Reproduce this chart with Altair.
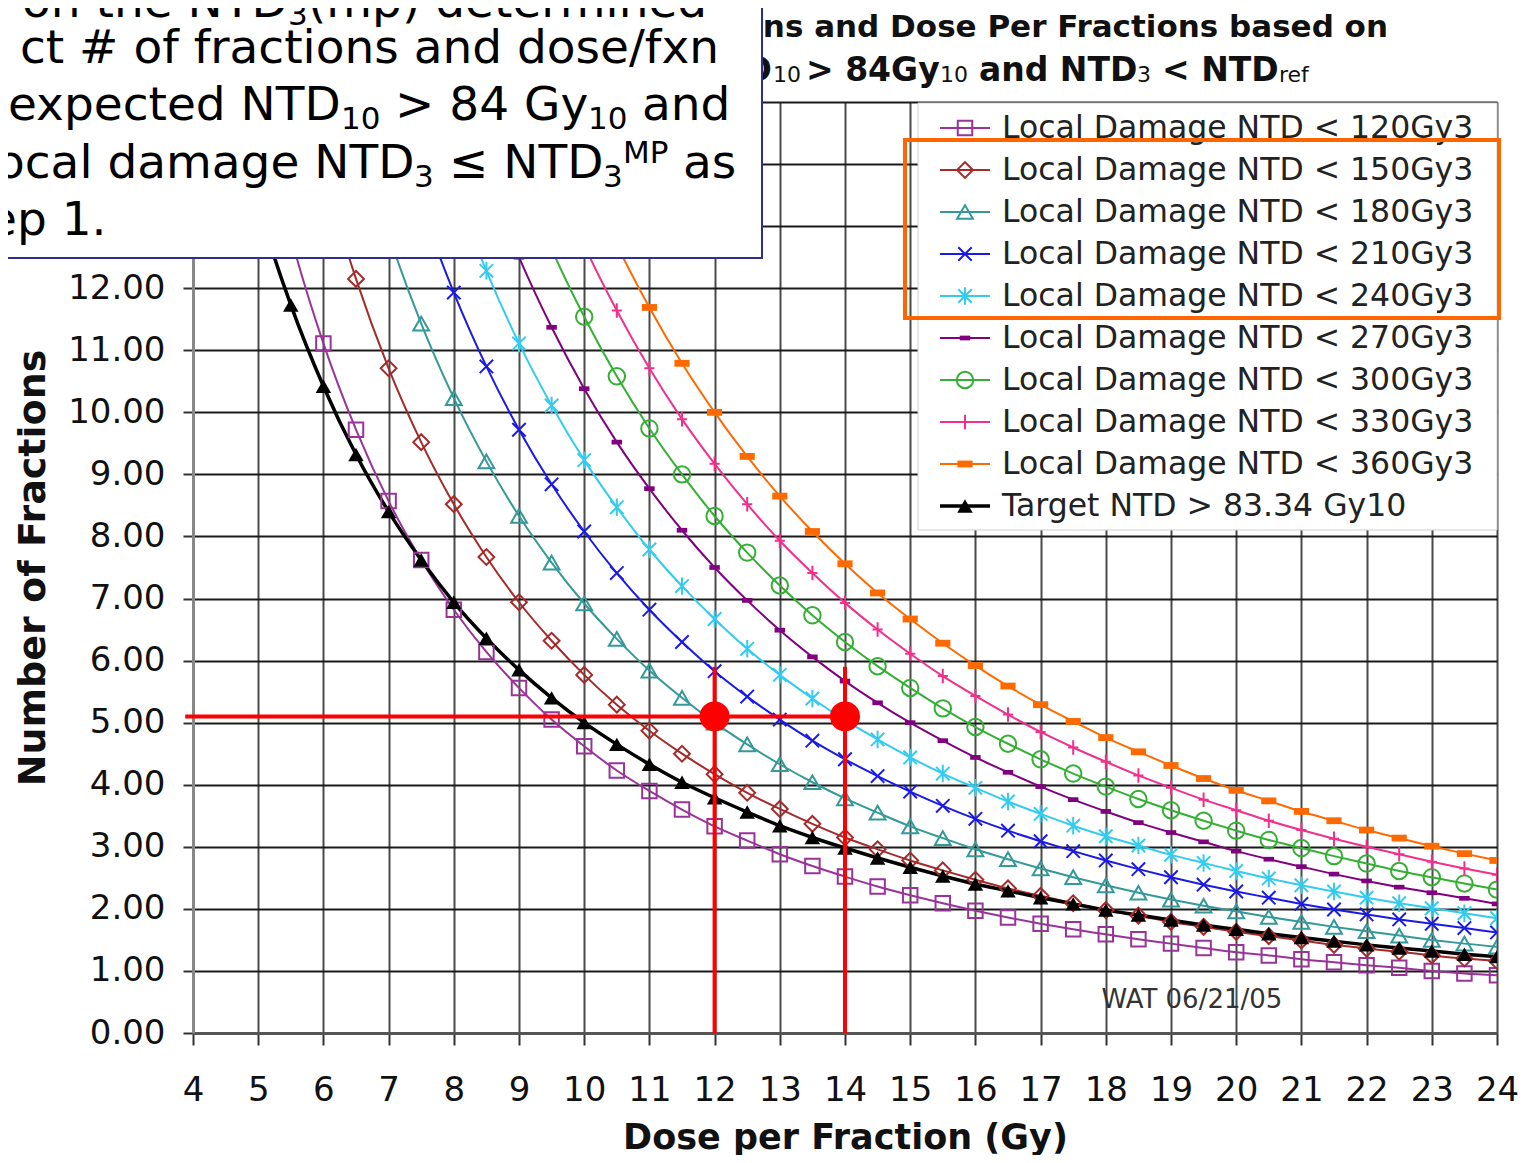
import altair as alt
import pandas as pd

# ---------------- data ----------------
DOSE = [4.0, 4.5, 5.0, 5.5, 6.0, 6.5, 7.0, 7.5, 8.0, 8.5, 9.0, 9.5, 10.0, 10.5,
        11.0, 11.5, 12.0, 12.5, 13.0, 13.5, 14.0, 14.5, 15.0, 15.5, 16.0, 16.5,
        17.0, 17.5, 18.0, 18.5, 19.0, 19.5, 20.0, 20.5, 21.0, 21.5, 22.0, 22.5,
        23.0, 23.5, 24.0]

N_120 = [21.43, 17.78, 15.00, 12.83, 11.11, 9.72, 8.57, 7.62, 6.82, 6.14, 5.56, 5.05,
         4.62, 4.23, 3.90, 3.60, 3.33, 3.10, 2.88, 2.69, 2.52, 2.36, 2.22, 2.09, 1.97,
         1.86, 1.76, 1.67, 1.59, 1.51, 1.44, 1.37, 1.30, 1.25, 1.19, 1.14, 1.09, 1.05,
         1.00, 0.96, 0.93]
N_150 = [None, 22.22, 18.75, 16.04, 13.89, 12.15, 10.71, 9.52, 8.52, 7.67, 6.94, 6.32,
         5.77, 5.29, 4.87, 4.50, 4.17, 3.87, 3.61, 3.37, 3.15, 2.96, 2.78, 2.62, 2.47,
         2.33, 2.21, 2.09, 1.98, 1.89, 1.79, 1.71, 1.63, 1.56, 1.49, 1.42, 1.36, 1.31,
         1.25, 1.20, 1.16]
N_180 = [None, None, 22.50, 19.25, 16.67, 14.58, 12.86, 11.43, 10.23, 9.21, 8.33, 7.58,
         6.92, 6.35, 5.84, 5.40, 5.00, 4.65, 4.33, 4.04, 3.78, 3.55, 3.33, 3.14, 2.96,
         2.80, 2.65, 2.51, 2.38, 2.26, 2.15, 2.05, 1.96, 1.87, 1.79, 1.71, 1.64, 1.57,
         1.50, 1.44, 1.39]
N_210 = [None, None, None, 22.46, 19.44, 17.00, 15.00, 13.33, 11.93, 10.74, 9.72, 8.84,
         8.08, 7.41, 6.82, 6.30, 5.83, 5.42, 5.05, 4.71, 4.41, 4.14, 3.89, 3.66, 3.45,
         3.26, 3.09, 2.93, 2.78, 2.64, 2.51, 2.39, 2.28, 2.18, 2.08, 1.99, 1.91, 1.83,
         1.76, 1.69, 1.62]
N_240 = [None, None, None, None, 22.22, 19.43, 17.14, 15.24, 13.64, 12.28, 11.11, 10.11,
         9.23, 8.47, 7.79, 7.20, 6.67, 6.19, 5.77, 5.39, 5.04, 4.73, 4.44, 4.18, 3.95,
         3.73, 3.53, 3.34, 3.17, 3.02, 2.87, 2.74, 2.61, 2.49, 2.38, 2.28, 2.18, 2.09,
         2.01, 1.93, 1.85]
N_270 = [None, None, None, None, None, 21.86, 19.29, 17.14, 15.34, 13.81, 12.50, 11.37,
         10.38, 9.52, 8.77, 8.10, 7.50, 6.97, 6.49, 6.06, 5.67, 5.32, 5.00, 4.71, 4.44,
         4.20, 3.97, 3.76, 3.57, 3.39, 3.23, 3.08, 2.93, 2.80, 2.68, 2.56, 2.45, 2.35,
         2.26, 2.17, 2.08]
N_300 = [None, None, None, None, None, None, 21.43, 19.05, 17.05, 15.35, 13.89, 12.63,
         11.54, 10.58, 9.74, 9.00, 8.33, 7.74, 7.21, 6.73, 6.30, 5.91, 5.56, 5.23, 4.93,
         4.66, 4.41, 4.18, 3.97, 3.77, 3.59, 3.42, 3.26, 3.11, 2.98, 2.85, 2.73, 2.61,
         2.51, 2.41, 2.31]
N_330 = [None, None, None, None, None, None, None, 20.95, 18.75, 16.88, 15.28, 13.90,
         12.69, 11.64, 10.71, 9.89, 9.17, 8.52, 7.93, 7.41, 6.93, 6.50, 6.11, 5.75, 5.43,
         5.13, 4.85, 4.60, 4.37, 4.15, 3.95, 3.76, 3.59, 3.42, 3.27, 3.13, 3.00, 2.88,
         2.76, 2.65, 2.55]
N_360 = [None, None, None, None, None, None, None, None, 20.45, 18.41, 16.67, 15.16,
         13.85, 12.70, 11.69, 10.79, 10.00, 9.29, 8.65, 8.08, 7.56, 7.09, 6.67, 6.28, 5.92,
         5.59, 5.29, 5.02, 4.76, 4.53, 4.31, 4.10, 3.91, 3.74, 3.57, 3.42, 3.27, 3.14,
         3.01, 2.89, 2.78]
N_TARGET = [17.86, 15.33, 13.33, 11.73, 10.42, 9.32, 8.40, 7.62, 6.94, 6.36, 5.85, 5.40,
            5.00, 4.65, 4.33, 4.04, 3.79, 3.56, 3.34, 3.15, 2.98, 2.82, 2.67, 2.53, 2.40,
            2.29, 2.18, 2.08, 1.98, 1.90, 1.82, 1.74, 1.67, 1.60, 1.54, 1.48, 1.42, 1.37,
            1.32, 1.27, 1.23]

SERIES_LABELS = ["Local Damage NTD < 120Gy3", "Local Damage NTD < 150Gy3",
                 "Local Damage NTD < 180Gy3", "Local Damage NTD < 210Gy3",
                 "Local Damage NTD < 240Gy3", "Local Damage NTD < 270Gy3",
                 "Local Damage NTD < 300Gy3", "Local Damage NTD < 330Gy3",
                 "Local Damage NTD < 360Gy3", "Target NTD > 83.34 Gy10"]
SERIES_VALUES = [N_120, N_150, N_180, N_210, N_240, N_270, N_300, N_330, N_360, N_TARGET]

X_TICKS = list(range(4, 25))
Y_TICKS = list(range(0, 16))

MARK_DOSE = [12, 14]       # red markers
MARK_N = [5.1, 5.1]
RED_H_START = 3.88
RED_H_END = 14
RED_V_TOP = 5.9
WAT_TEXT = "WAT 06/21/05"
WAT_POS = (19.32, 0.53)

# ---------------- styles ----------------
FONT = "DejaVu Sans"
STYLES = [
    dict(color="#993399", shape="square", size=210, filled=False, lw=2),
    dict(color="#A52A2A", shape="diamond", size=250, filled=False, lw=2),
    dict(color="#339999", shape="triangle-up", size=250, filled=False, lw=2),
    dict(color="#1A1AE6", shape="M-1,-1L1,1M-1,1L1,-1", size=180, filled=False, lw=2),
    dict(color="#33CCF0", shape="M-1,-1L1,1M-1,1L1,-1M0,-1.3L0,1.3", size=180, filled=False, lw=2),
    dict(color="#800080", shape="M-1,-0.45L1,-0.45L1,0.45L-1,0.45Z", size=110, filled=True, lw=2),
    dict(color="#33B033", shape="circle", size=270, filled=False, lw=2),
    dict(color="#F0308C", shape="M0,-1L0,1M-0.7,0L0.7,0", size=210, filled=False, lw=2),
    dict(color="#FF6A00", shape="M-1,-0.45L1,-0.45L1,0.45L-1,0.45Z", size=230, filled=True, lw=2),
    dict(color="#000000", shape="triangle-up", size=240, filled=True, lw=3.5),
]

PX, PY = 193, 102          # page position of plot origin
W, H = 1304, 931

XS = alt.Scale(domain=[4, 24], nice=False, zero=False)
YS = alt.Scale(domain=[0, 15], nice=False, zero=True)

XAX = alt.Axis(values=X_TICKS, format="d", labelFontSize=34, labelColor="#111",
               labelFont=FONT, labelPadding=28, labelFlush=False, labelOverlap=False,
               tickSize=12, tickColor="#333", tickWidth=2,
               domainColor="#555", domainWidth=3, gridColor="#4a4a4a", gridWidth=2,
               title="Dose per Fraction (Gy)", titleFontSize=35, titleFont=FONT,
               titleFontWeight="bold", titleColor="#111", titlePadding=13)
YAX = alt.Axis(values=Y_TICKS, labelExpr="datum.value <= 12 ? format(datum.value, '.2f') : ''",
               labelFontSize=34, labelColor="#111", labelFont=FONT, labelPadding=18,
               labelFlush=False, labelOverlap=False,
               tickSize=10, tickColor="#333", tickWidth=2,
               domainColor="#888", domainWidth=3, gridColor="#1a1a1a", gridWidth=2,
               title="Number of Fractions", titleFontSize=38, titleFont=FONT,
               titleFontWeight="bold", titleColor="#111", titlePadding=15)

X = alt.X("dose:Q", scale=XS, axis=XAX)
Y = alt.Y("n:Q", scale=YS, axis=YAX)

layers = []

# series lines and markers
for vals, st in zip(SERIES_VALUES, STYLES):
    df = pd.DataFrame({"dose": DOSE, "n": vals}).dropna()
    layers.append(alt.Chart(df).mark_line(color=st["color"], strokeWidth=st["lw"],
                                          interpolate="monotone", clip=True).encode(x=X, y=Y))
for vals, st in zip(SERIES_VALUES, STYLES):
    df = pd.DataFrame({"dose": DOSE, "n": vals}).dropna()
    layers.append(alt.Chart(df).mark_point(shape=st["shape"], size=st["size"],
                                           filled=st["filled"], color=st["color"],
                                           strokeWidth=2, opacity=1,
                                           clip=True).encode(x=X, y=Y))

# red annotation
layers.append(alt.Chart(pd.DataFrame({"dose": [RED_H_START], "dose2": [RED_H_END],
                                      "n": [MARK_N[0]]}))
              .mark_rule(color="#FF0000", strokeWidth=4)
              .encode(x=X, x2="dose2:Q", y=Y))
layers.append(alt.Chart(pd.DataFrame({"dose": MARK_DOSE, "n": [RED_V_TOP, RED_V_TOP],
                                      "n0": [0, 0]}))
              .mark_rule(color="#FF0000", strokeWidth=4)
              .encode(x=X, y=Y, y2="n0:Q"))
layers.append(alt.Chart(pd.DataFrame({"dose": MARK_DOSE, "n": MARK_N}))
              .mark_circle(color="#FF0000", size=900, opacity=1)
              .encode(x=X, y=Y))

# WAT stamp
layers.append(alt.Chart(pd.DataFrame({"dose": [WAT_POS[0]], "n": [WAT_POS[1]], "t": [WAT_TEXT]}))
              .mark_text(font=FONT, fontSize=26, color="#333", align="center", baseline="middle")
              .encode(x=X, y=Y, text="t:N"))

ONE = pd.DataFrame({"k": [0]})


def rect(x1, x2, y1, y2, **kw):
    return alt.Chart(ONE).mark_rect(**kw).encode(
        x=alt.value(x1 - PX), x2=alt.value(x2 - PX),
        y=alt.value(y1 - PY), y2=alt.value(y2 - PY))


def text(s, x, y, size, weight="normal", align="left", color="#000"):
    return alt.Chart(ONE).mark_text(text=s, font=FONT, fontSize=size, fontWeight=weight,
                                    align=align, baseline="alphabetic", color=color).encode(
        x=alt.value(x - PX), y=alt.value(y - PY))


# legend
layers.append(rect(918, 1497, 103, 530, fill="white", stroke="#d0d0d0", strokeWidth=1))
for i, (lab, st) in enumerate(zip(SERIES_LABELS, STYLES)):
    yy = 128 + 42 * i
    layers.append(alt.Chart(ONE).mark_rule(color=st["color"], strokeWidth=st["lw"]).encode(
        x=alt.value(940 - PX), x2=alt.value(990 - PX), y=alt.value(yy - PY)))
    layers.append(alt.Chart(ONE).mark_point(shape=st["shape"], size=st["size"],
                                            filled=st["filled"], color=st["color"],
                                            strokeWidth=2, opacity=1).encode(
        x=alt.value(965 - PX), y=alt.value(yy - PY)))
    layers.append(alt.Chart(pd.DataFrame({"label": [lab]}))
                  .mark_text(font=FONT, fontSize=31.5, align="left", baseline="middle", color="#222")
                  .encode(x=alt.value(1002 - PX), y=alt.value(yy + 1 - PY), text="label:N"))

# chart title (its left part is hidden behind the text box)
layers.append(text("ns and Dose Per Fractions based on", 1388, 37, 31, "bold", "right", "#111"))
T2 = 81
for s, x, big, al in [("D", 772, True, "right"), ("10", 773, False, "left"),
                      ("> 84Gy", 806, True, "left"), ("10", 940, False, "left"),
                      ("and NTD", 979, True, "left"), ("3", 1137, False, "left"),
                      ("< NTD", 1162, True, "left"), ("ref", 1279, False, "left")]:
    layers.append(text(s, x, T2 if big else T2 + 1, 33 if big else 22,
                       "bold" if big else "normal", al, "#111"))

# text box
layers.append(rect(-20, 762, -20, 258, fill="white", stroke="#2E2E8F", strokeWidth=2))
for s, x, y, size, al in [
    ("on the NTD", 22, 17, 47, "left"), ("3", 288, 25, 31, "left"),
    ("(mp) determined", 308, 17, 47, "left"),
    ("ct # of fractions and dose/fxn", 719, 63, 47, "right"),
    ("expected NTD", 8, 120, 47, "left"), ("10", 341, 129, 31, "left"),
    ("> 84 Gy", 395, 120, 47, "left"), ("10", 588, 129, 31, "left"),
    ("and", 642, 120, 47, "left"),
    ("ocal damage NTD", -4, 178, 47, "left"), ("3", 414, 187, 31, "left"),
    ("\u2264 NTD", 449, 178, 47, "left"), ("3", 603, 187, 31, "left"),
    ("MP", 623, 163, 31, "left"), ("as", 683, 178, 47, "left"),
    ("ep 1.", -12, 235, 47, "left"),
]:
    layers.append(text(s, x, y, size, "normal", al, "#000"))

# orange highlight
layers.append(rect(905, 1499, 140, 318, filled=False, color="#FF6600", strokeWidth=4))

chart = alt.layer(*layers).properties(
    width=W, height=H,
    autosize=alt.AutoSizeParams(type="none"),
    padding={"left": 185, "top": 94, "right": 25, "bottom": 122},
).configure_view(stroke="#a0a0a0", strokeWidth=2).configure(background="white")

chart.save("out.html", embed_options={"renderer": "svg", "actions": False})
